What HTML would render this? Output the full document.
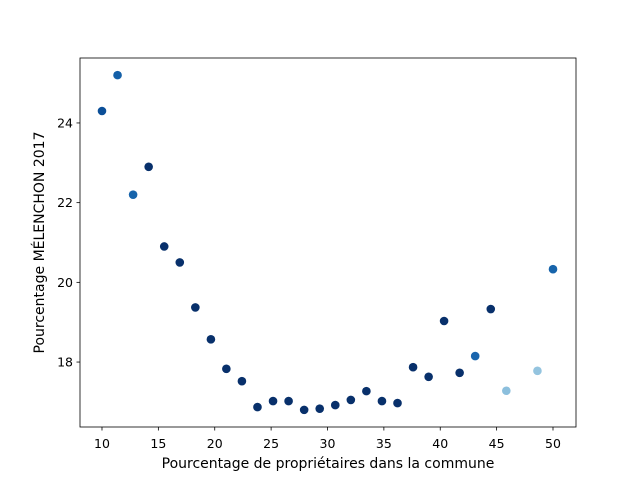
<!DOCTYPE html>
<html><head><meta charset="utf-8"><style>
body{margin:0;background:#fff;}
svg text{font-family:"DejaVu Sans","Liberation Sans",sans-serif;fill:#000;}
</style></head><body>
<svg id="chart" width="640" height="480" xmlns="http://www.w3.org/2000/svg">
<rect width="640" height="480" fill="#fff"/>
<g id="marks"></g><g id="axes"></g>
</svg>
<script>
const xValues=[10,11.38,12.76,14.14,15.52,16.9,18.28,19.66,21.03,22.41,23.79,25.17,26.55,27.93,29.31,30.69,32.07,33.45,34.83,36.21,37.59,38.97,40.34,41.72,43.1,44.48,45.86,48.62,50];
const yValues=[24.3,25.2,22.2,22.9,20.9,20.5,19.37,18.57,17.83,17.52,16.87,17.02,17.02,16.8,16.83,16.92,17.05,17.27,17.02,16.97,17.87,17.63,19.03,17.73,18.15,19.33,17.28,17.78,20.33];
const pointColors=["#0b4f98","#1460a8","#1764ab","#08306b","#08306b","#08306b","#08306b","#08306b","#08306b","#08306b","#08306b","#08306b","#08306b","#08306b","#08306b","#08306b","#08306b","#08306b","#08306b","#08306b","#08306b","#08306b","#08306b","#08306b","#1a65ad","#08306b","#8cbfdd","#94c4df","#1764ab"];
const xTicks=[10,15,20,25,30,35,40,45,50];
const yTicks=[18,20,22,24];
const L=80,R=576,T=58,B=427;
const xMin=8.05,xMax=52.04,yMin=16.37,yMax=25.63;
const sx=v=>L+(v-xMin)/(xMax-xMin)*(R-L);
const sy=v=>B-(v-yMin)/(yMax-yMin)*(B-T);
const NS="http://www.w3.org/2000/svg";
function mk(tag,attrs,parent){const e=document.createElementNS(NS,tag);for(const k in attrs)e.setAttribute(k,attrs[k]);parent.appendChild(e);return e;}
const marks=document.getElementById('marks'),axes=document.getElementById('axes');
xValues.forEach((x,i)=>{
 const c=mk('circle',{cx:sx(x),cy:sy(yValues[i]),r:4.3,fill:pointColors[i]},marks);
 
 
});
const frame=mk('rect',{x:L,y:T,width:R-L,height:B-T,fill:'none',stroke:'#000','stroke-width':0.8},axes);


xTicks.forEach(t=>{
 const x=sx(t);
 mk('line',{x1:x,x2:x,y1:B,y2:B+3.5,stroke:'#000','stroke-width':0.8},axes);
 const tx=mk('text',{x:x,y:448,'text-anchor':'middle',style:'font-size:12.5px'},axes);tx.textContent=t;
 
 
});
yTicks.forEach(t=>{
 const y=sy(t);
 mk('line',{x1:L-3.5,x2:L,y1:y,y2:y,stroke:'#000','stroke-width':0.8},axes);
 const tx=mk('text',{x:L-7,y:y+4.5,'text-anchor':'end',style:'font-size:12.5px'},axes);tx.textContent=t;
 
 
});
const xt=mk('text',{x:(L+R)/2,y:468,'text-anchor':'middle',style:'font-size:14px'},axes);
xt.textContent='Pourcentage de propriétaires dans la commune';


const yt=mk('text',{x:0,y:0,'text-anchor':'middle',style:'font-size:14px',transform:`translate(44,${(T+B)/2}) rotate(-90)`},axes);
yt.textContent='Pourcentage MÉLENCHON 2017';


</script>
</body></html>
